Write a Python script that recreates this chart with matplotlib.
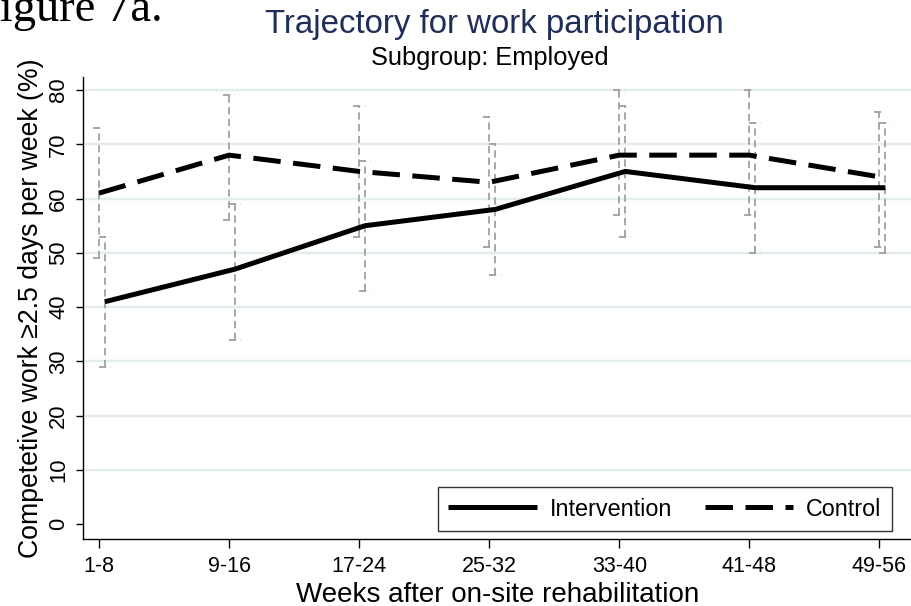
import numpy as np
import matplotlib.pyplot as plt

plt.rcParams['font.family'] = ['Liberation Sans', 'DejaVu Sans']

# Zeitfenster (Wochen) und Anteile
periods = ["1-8", "9-16", "17-24", "25-32", "33-40", "41-48", "49-56"]
intervention = [41, 47, 55, 58, 65, 62, 62]
control = [61, 68, 65, 63, 68, 68, 64]

# 95% Konfidenzintervalle
int_lo = [29, 34, 43, 46, 53, 50, 50]
int_hi = [53, 59, 67, 70, 77, 74, 74]
ctl_lo = [49, 56, 53, 51, 57, 57, 51]
ctl_hi = [73, 79, 77, 75, 80, 80, 76]

x = np.arange(len(periods))
x_int = x + 0.045
x_ctl = x

fig = plt.figure(figsize=(9.12, 6.06), dpi=100)
ax = fig.add_axes([0.091, 0.1106, 0.909, 0.7624])

# Gitterlinien
for v in range(10, 81, 10):
    ax.axhline(v, color='#e3ecee', lw=1.7, zorder=0)

ci_kw = dict(color='#a0a0a0', lw=1.3, linestyle=(0, (4, 2.5)), zorder=1)
cap = 0.045
for xs, lo, hi in [(x_ctl, ctl_lo, ctl_hi), (x_int, int_lo, int_hi)]:
    ax.vlines(xs, lo, hi, **ci_kw)
    ax.hlines(lo, xs - cap, xs + cap, **ci_kw)
    ax.hlines(hi, xs - cap, xs + cap, **ci_kw)

ax.plot(x_int, intervention, color='black', lw=3.6, solid_capstyle='butt',
        label='Intervention', zorder=3)
ax.plot(x_ctl, control, color='black', lw=3.6, dashes=(5.5, 2.5),
        label='Control', zorder=3)

ax.set_xlim(-0.123, 6.25)
ax.set_ylim(-2.7, 82.4)
ax.set_xticks(x)
ax.set_xticklabels(periods)
ax.set_yticks(range(0, 81, 10))
ax.tick_params(axis='x', labelsize=15.5, length=6.5, width=1, pad=6)
ax.tick_params(axis='y', labelsize=15.8, length=5, width=1, pad=5)
for lab in ax.get_yticklabels():
    lab.set_rotation(90)
    lab.set_va('center')

for s in ['top', 'right']:
    ax.spines[s].set_visible(False)
for s in ['left', 'bottom']:
    ax.spines[s].set_linewidth(1)

ax.set_xlabel('Weeks after on-site rehabilitation', fontsize=20, labelpad=3)
ax.set_ylabel('Competetive work \u22652.5 days per week (%)', fontsize=19.2, labelpad=3)

leg = ax.legend(loc='lower right', bbox_to_anchor=(0.976, 0.017), ncol=2,
                fontsize=16.8, frameon=True, fancybox=False, handlelength=3.8,
                columnspacing=1.4, handletextpad=0.55, borderpad=0.45,
                borderaxespad=0)
leg.get_frame().set_edgecolor('black')
leg.get_frame().set_linewidth(1)

fig.text(0.542, 1 - 33 / 606, 'Trajectory for work participation', ha='center',
         va='baseline', fontsize=23.8, color='#1f2d58')
fig.text(0.537, 1 - 65 / 606, 'Subgroup: Employed', ha='center', va='baseline',
         fontsize=18.3, color='black')
fig.text(-0.0285, 0.965, 'Figure 7a.', ha='left', va='baseline', fontsize=33.5,
         family=['Liberation Serif', 'DejaVu Serif'])

fig.savefig('out.png', dpi=100)
